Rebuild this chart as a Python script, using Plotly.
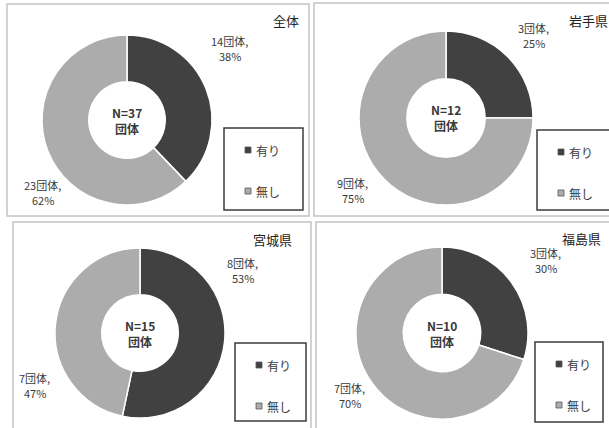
import plotly.graph_objects as go

W, H = 609, 428

# Survey results: organisations with / without the item, by area
regions = ["全体", "岩手県", "宮城県", "福島県"]
totals = [37, 12, 15, 10]
with_counts = [14, 3, 8, 3]
without_counts = [23, 9, 7, 7]
categories = ["有り", "無し"]
slice_colors = ["#414141", "#acacac"]

FONT = "Noto Sans CJK JP, Noto Sans, sans-serif"
TEXT_COLOR = "#3a3a3a"

# Pixel layout of the four panels
panels = [
    dict(box=(7, 4, 309, 216), center=(127, 120), r=85, title=(301, 20, "right"),
         lab_yes=(229, 48), lab_no=(42, 192), legend=(224, 128, 303, 210)),
    dict(box=(314, 3, 614, 216), center=(446, 118), r=87, title=(567, 20, "left"),
         lab_yes=(533, 35), lab_no=(352, 190), legend=(537, 130, 620, 210)),
    dict(box=(13, 222, 311, 434), center=(140, 333), r=85, title=(294, 240, "right"),
         lab_yes=(242, 270), lab_no=(34, 385), legend=(235, 343, 306, 421)),
    dict(box=(316, 222, 614, 434), center=(442, 333), r=86, title=(603, 238, "right"),
         lab_yes=(545, 260), lab_no=(349, 395), legend=(535, 342, 603, 422)),
]


def px(x):
    return x / W


def py(y):
    return 1 - y / H


def note(x, y, text, size, color=TEXT_COLOR, xanchor="center", bold=False):
    return dict(x=px(x), y=py(y), xref="paper", yref="paper", showarrow=False,
                text=f"<b>{text}</b>" if bold else text,
                xanchor=xanchor, yanchor="middle", align="center",
                font=dict(family=FONT, size=size, color=color))


fig = go.Figure()
shapes = []
annotations = []

for i, p in enumerate(panels):
    vals = [with_counts[i], without_counts[i]]
    pcts = [round(100 * v / totals[i]) for v in vals]
    cx, cy = p["center"]
    r = p["r"]

    # panel frame
    x0, y0, x1, y1 = p["box"]
    shapes.append(dict(type="rect", xref="paper", yref="paper",
                       x0=px(x0), x1=px(x1), y0=py(y1), y1=py(y0),
                       line=dict(color="#c4c4c4", width=1.5), layer="below"))

    fig.add_trace(go.Pie(
        labels=categories, values=vals,
        hole=0.45, sort=False, direction="clockwise", rotation=0,
        textinfo="none", showlegend=False,
        marker=dict(colors=slice_colors, line=dict(color="#ffffff", width=1.5)),
        domain=dict(x=[px(cx - r), px(cx + r)], y=[py(cy + r), py(cy - r)]),
    ))

    # centre caption
    annotations.append(note(cx, cy, f"N={totals[i]}<br>団体", 12, bold=True))

    # area title
    tx, ty, anchor = p["title"]
    annotations.append(note(tx, ty, regions[i], 13, color="#222222", xanchor=anchor))

    # slice labels: count on the first line, share on the second
    for (lx, ly), v, pc in zip([p["lab_yes"], p["lab_no"]], vals, pcts):
        annotations.append(note(lx, ly - 7, f"{v}団体,", 11))
        annotations.append(note(lx + 1, ly + 8, f"{pc}%", 11))

    # legend box
    bx0, by0, bx1, by1 = p["legend"]
    shapes.append(dict(type="rect", xref="paper", yref="paper",
                       x0=px(bx0), x1=px(bx1), y0=py(by1), y1=py(by0),
                       line=dict(color="#3c3c3c", width=1.5),
                       fillcolor="rgba(255,255,255,0)"))
    for k, (lab, col) in enumerate(zip(categories, slice_colors)):
        iy = by0 + 22 + 41 * k
        mx = bx0 + 24
        shapes.append(dict(type="rect", xref="paper", yref="paper",
                           x0=px(mx - 3), x1=px(mx + 3), y0=py(iy + 3), y1=py(iy - 3),
                           fillcolor=col, line=dict(color="#555555", width=0.8)))
        annotations.append(note(mx + 6, iy, lab, 12, xanchor="left"))

fig.update_layout(
    width=W, height=H,
    margin=dict(l=0, r=0, t=0, b=0),
    paper_bgcolor="#ffffff", plot_bgcolor="#ffffff",
    shapes=shapes, annotations=annotations,
)

fig.write_html("out.html")
